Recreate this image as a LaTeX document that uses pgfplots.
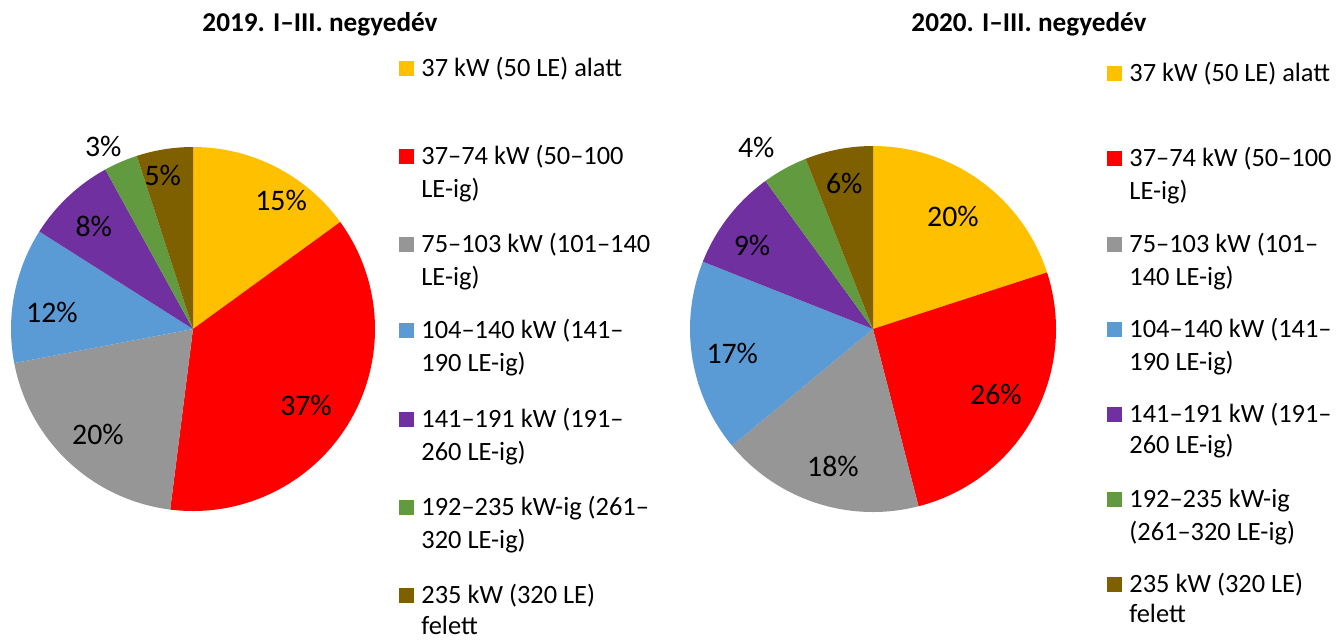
\documentclass[border=0pt]{standalone}
\usepackage{fontspec}
\setmainfont{Carlito}
\usepackage{pgfplots}
\pgfplotsset{compat=1.18}
\definecolor{cYel}{HTML}{FFC000}
\definecolor{cRed}{HTML}{FF0000}
\definecolor{cGra}{HTML}{969696}
\definecolor{cBlu}{HTML}{5B9BD5}
\definecolor{cPur}{HTML}{7030A0}
\definecolor{cGre}{HTML}{629A3F}
\definecolor{cBro}{HTML}{7F6000}
% slice: cumulative start %, cumulative end %, colour
\newcommand\slice[3]{\addplot[draw=none, fill=#3, domain=90-3.6*#2:90-3.6*#1, samples=90, variable=\t] ({cos(\t)},{sin(\t)}) -- (axis cs:0,0) -- cycle;}
\newcommand\lab[3]{\node[inner sep=0pt, font=\fontsize{14.9}{17}\selectfont] at (axis cs:#1,#2) {#3\%};}
\newcommand\legsq[3]{\fill[#3] (#1,#2-15) rectangle (#1+15,#2);}
\newcommand\legtx[3]{\node[anchor=base west, inner sep=0pt, font=\fontsize{13.2}{15}\selectfont] at (#1,#2) {#3};}
\begin{document}
\begin{tikzpicture}
\useasboundingbox (0,0) rectangle (668.5pt,-319.5pt);
% ---------- 2019 ----------
\begin{axis}[at={(96.5pt,-164.5pt)}, anchor=center, hide axis, scale only axis,
  x=91pt, y=91pt, xmin=-1.2, xmax=1.2, ymin=-1.2, ymax=1.2, clip=false]
\slice{0}{15}{cYel}
\slice{15}{52}{cRed}
\slice{52}{72}{cGra}
\slice{72}{84}{cBlu}
\slice{84}{92}{cPur}
\slice{92}{95}{cGre}
\slice{95}{100}{cBro}
\lab{0.484}{0.709}{15}
\lab{0.621}{-0.418}{37}
\lab{-0.522}{-0.577}{20}
\lab{-0.775}{0.093}{12}
\lab{-0.545}{0.562}{8}
\lab{-0.493}{1.004}{3}
\lab{-0.166}{0.842}{5}
\end{axis}
% ---------- 2020 ----------
\begin{axis}[at={(436.5pt,-164.5pt)}, anchor=center, hide axis, scale only axis,
  x=91.5pt, y=91.5pt, xmin=-1.2, xmax=1.2, ymin=-1.2, ymax=1.2, clip=false]
\slice{0}{20}{cYel}
\slice{20}{46}{cRed}
\slice{46}{64}{cGra}
\slice{64}{81}{cBlu}
\slice{81}{90}{cPur}
\slice{90}{94}{cGre}
\slice{94}{100}{cBro}
\lab{0.437}{0.617}{20}
\lab{0.672}{-0.355}{26}
\lab{-0.219}{-0.749}{18}
\lab{-0.769}{-0.131}{17}
\lab{-0.661}{0.459}{9}
\lab{-0.638}{0.992}{4}
\lab{-0.157}{0.796}{6}
\end{axis}
\begin{scope}[x=0.5pt, y=-0.5pt]
% titles
\node[anchor=base, inner sep=0pt, font=\fontsize{13.6}{15}\selectfont\bfseries] at (320,31.7) {2019. I–III. negyedév};
\node[anchor=base, inner sep=0pt, font=\fontsize{13.6}{15}\selectfont\bfseries] at (1029,31.7) {2020. I–III. negyedév};
% legend 2019
\legsq{399}{76}{cYel}\legtx{421}{76}{37 kW (50 LE) alatt}
\legsq{399}{164}{cRed}\legtx{421}{164}{37–74 kW (50–100}\legtx{421}{197}{LE-ig)}
\legsq{399}{252}{cGra}\legtx{421}{252}{75–103 kW (101–140}\legtx{421}{285}{LE-ig)}
\legsq{399}{338}{cBlu}\legtx{421}{338}{104–140 kW (141–}\legtx{421}{371}{190 LE-ig)}
\legsq{399}{427}{cPur}\legtx{421}{427}{141–191 kW (191–}\legtx{421}{460}{260 LE-ig)}
\legsq{399}{515}{cGre}\legtx{421}{515}{192–235 kW-ig (261–}\legtx{421}{548}{320 LE-ig)}
\legsq{399}{603}{cBro}\legtx{421}{603}{235 kW (320 LE)}\legtx{421}{634}{felett}
% legend 2020
\legsq{1107}{81}{cYel}\legtx{1129}{81}{37 kW (50 LE) alatt}
\legsq{1107}{166}{cRed}\legtx{1129}{166}{37–74 kW (50–100}\legtx{1129}{199}{LE-ig)}
\legsq{1107}{252}{cGra}\legtx{1129}{252}{75–103 kW (101–}\legtx{1129}{285}{140 LE-ig)}
\legsq{1107}{337}{cBlu}\legtx{1129}{337}{104–140 kW (141–}\legtx{1129}{370}{190 LE-ig)}
\legsq{1107}{422}{cPur}\legtx{1129}{422}{141–191 kW (191–}\legtx{1129}{453}{260 LE-ig)}
\legsq{1107}{507}{cGre}\legtx{1129}{507}{192–235 kW-ig}\legtx{1129}{540}{(261–320 LE-ig)}
\legsq{1107}{592}{cBro}\legtx{1129}{592}{235 kW (320 LE)}\legtx{1129}{622}{felett}
\end{scope}
\end{tikzpicture}
\end{document}
